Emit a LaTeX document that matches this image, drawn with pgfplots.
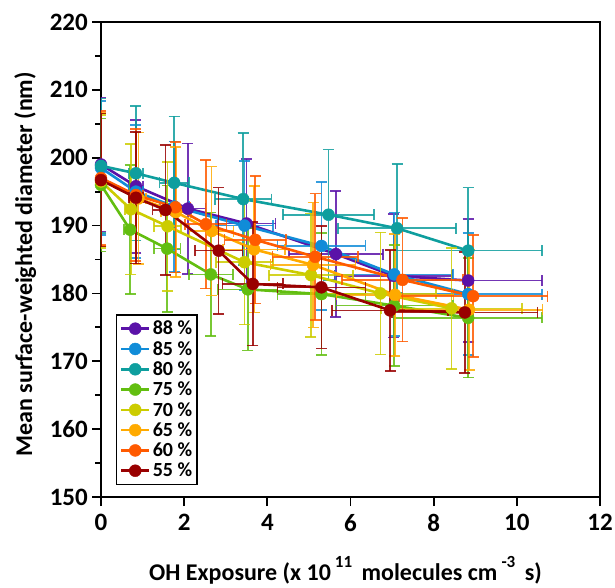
\documentclass[border=0pt]{standalone}
\usepackage{fontspec}
\setmainfont{Carlito}
\usepackage{pgfplots}
\pgfplotsset{compat=1.18}

\definecolor{c88}{HTML}{5A12A8}
\definecolor{c85}{HTML}{108CD8}
\definecolor{c80}{HTML}{0E9E9E}
\definecolor{c75}{HTML}{62BE10}
\definecolor{c70}{HTML}{CCCC00}
\definecolor{c65}{HTML}{FFAA00}
\definecolor{c60}{HTML}{FF5A00}
\definecolor{c55}{HTML}{990000}

% x  y  ex  ey
\pgfplotstableread{
x y ex ey
0 199.0 0 9.9
0.84 195.8 0.17 9.8
2.09 192.5 0.42 9.6
3.50 190.3 0.70 9.5
5.65 185.8 1.13 9.3
7.03 182.6 1.41 9.1
8.83 181.9 1.77 9.1
}\tabA
\pgfplotstableread{
x y ex ey
0 198.5 0 9.9
0.84 195.0 0.17 9.8
1.76 192.8 0.35 9.6
3.45 190.0 0.69 9.5
5.30 187.0 1.06 9.4
7.05 182.8 1.41 9.1
8.83 179.9 1.77 9.0
}\tabB
\pgfplotstableread{
x y ex ey
0 198.8 0 9.9
0.84 197.7 0.17 9.9
1.76 196.3 0.35 9.8
3.42 193.9 0.68 9.7
5.47 191.6 1.09 9.6
7.12 189.6 1.42 9.5
8.83 186.3 1.77 9.3
}\tabC
\pgfplotstableread{
x y ex ey
0 196.0 0 9.8
0.70 189.4 0.14 9.5
1.59 186.6 0.32 9.3
2.64 182.8 0.53 9.1
3.53 180.6 0.71 9.0
5.30 179.9 1.06 9.0
7.05 178.2 1.41 8.9
8.83 176.4 1.77 8.8
}\tabD
\pgfplotstableread{
x y ex ey
0 196.5 0 9.8
0.72 192.4 0.14 9.6
1.60 189.9 0.32 9.5
3.45 184.6 0.69 9.2
5.05 182.7 1.01 9.1
6.72 180.0 1.34 9.0
8.43 177.8 1.69 8.9
}\tabE
\pgfplotstableread{
x y ex ey
0 196.8 0 9.8
0.90 194.0 0.18 9.7
1.80 192.0 0.36 9.6
2.66 189.2 0.53 9.5
3.68 186.5 0.74 9.3
5.10 184.2 1.02 9.2
7.07 179.8 1.41 9.0
8.85 177.6 1.77 8.9
}\tabF
\pgfplotstableread{
x y ex ey
0 197.0 0 9.9
0.84 194.5 0.17 9.7
1.79 192.7 0.36 9.6
2.52 190.2 0.50 9.5
3.71 187.9 0.74 9.4
5.15 185.4 1.03 9.3
7.25 182.0 1.45 9.1
8.95 179.6 1.79 9.0
}\tabG
\pgfplotstableread{
x y ex ey
0 196.7 0 9.8
0.84 194.1 0.17 9.7
1.55 192.3 0.31 9.6
2.83 186.3 0.57 9.3
3.65 181.4 0.73 9.1
5.30 180.9 1.06 9.0
6.95 177.5 1.39 8.9
8.75 177.2 1.75 8.9
}\tabH

\begin{document}
\begin{tikzpicture}
\begin{axis}[
  width=499pt, height=475pt, scale only axis,
  xmin=0, xmax=12, ymin=150, ymax=220,
  xtick={0,2,...,12}, ytick={150,160,...,220},
  minor y tick num=1,
  tick align=outside, xtick pos=left, ytick pos=left,
  major tick length=9pt, minor tick length=6pt,
  tick style={black, line width=1.8pt},
  axis line style={line width=1.8pt},
  ticklabel style={font=\fontsize{25}{28}\selectfont\bfseries, inner sep=0pt},
  xticklabel style={anchor=north, yshift=-8pt},
  yticklabel style={anchor=east, xshift=-4pt},
  /pgf/number format/assume math mode=true,
  xlabel={OH Exposure (x 10\,\raisebox{1.05ex}{\fontsize{17}{20}\selectfont 11}\, molecules cm\,\raisebox{1.05ex}{\fontsize{17}{20}\selectfont -3}\, s)},
  ylabel={Mean surface-weighted diameter (nm)},
  label style={font=\fontsize{24}{28}\selectfont\bfseries, inner sep=0pt},
  xlabel style={at={(axis description cs:0.49,0)}, anchor=base, yshift=-83pt},
  ylabel style={at={(axis description cs:-0.1743,0.49)}, anchor=north},
  legend style={at={(0.03,0.025)}, anchor=south west, draw=black,
    line width=1.5pt, font=\fontsize{20}{24}\selectfont\bfseries,
    row sep=1pt, inner xsep=3pt, inner ysep=4pt},
  legend cell align=left,
  legend image code/.code={
    \draw[#1, mark repeat=2, mark phase=2] plot coordinates {(0cm,0cm) (0.5cm,0cm) (1.0cm,0cm)};},
  every axis plot/.append style={line width=2.6pt, mark=*, mark size=6pt,
    mark options={solid, line width=0.4pt}},
  err/.style={error bars/.cd, x dir=both, x explicit, y dir=both, y explicit,
    error bar style={line width=1.6pt, opacity=0.85},
    error mark options={rotate=90, mark size=5.5pt, line width=1.6pt, opacity=0.85}},
]
\addplot[c88, err] table[x=x, y=y, x error=ex, y error=ey] {\tabA};
\addplot[c85, err] table[x=x, y=y, x error=ex, y error=ey] {\tabB};
\addplot[c80, err] table[x=x, y=y, x error=ex, y error=ey] {\tabC};
\addplot[c75, err] table[x=x, y=y, x error=ex, y error=ey] {\tabD};
\addplot[c70, err] table[x=x, y=y, x error=ex, y error=ey] {\tabE};
\addplot[c65, err] table[x=x, y=y, x error=ex, y error=ey] {\tabF};
\addplot[c60, err] table[x=x, y=y, x error=ex, y error=ey] {\tabG};
\addplot[c55, err] table[x=x, y=y, x error=ex, y error=ey] {\tabH};
\legend{88 \%, 85 \%, 80 \%, 75 \%, 70 \%, 65 \%, 60 \%, 55 \%}
\end{axis}
\pgfresetboundingbox
\path[use as bounding box] (current axis.south west) ++(-101pt,-91pt) rectangle ++(615pt,588pt);
\end{tikzpicture}
\end{document}
